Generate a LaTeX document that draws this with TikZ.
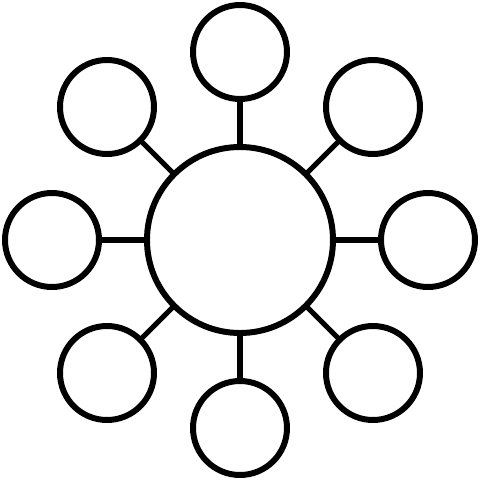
\documentclass[tikz,border=0pt]{standalone}
\usepackage{amsmath,amsthm,amssymb}
\usepackage{tikz}

\begin{document}
\begin{tikzpicture}[
  hub/.style={shape=circle,draw=black,line width=3.4pt,minimum size=3.72cm,inner sep=0pt,outer sep=0pt},
  leaf/.style={shape=circle,draw=black,line width=3.4pt,minimum size=1.88cm,inner sep=0pt,outer sep=0pt},
  spoke/.style={draw=black,line width=3pt}]

\useasboundingbox (-4.8,-4.8) rectangle (4.8,4.8);

\node[hub] (C) at (0,0) {};

\node[leaf] (T) at (0,3.76) {};
\node[leaf] (TR) at (2.66,2.66) {};
\node[leaf] (R) at (3.76,0) {};
\node[leaf] (BR) at (2.66,-2.66) {};
\node[leaf] (B) at (0,-3.76) {};
\node[leaf] (BL) at (-2.66,-2.66) {};
\node[leaf] (L) at (-3.76,0) {};
\node[leaf] (TL) at (-2.66,2.66) {};

\path [spoke] (C) edge (T);
\path [spoke] (C) edge (TR);
\path [spoke] (C) edge (R);
\path [spoke] (C) edge (BR);
\path [spoke] (C) edge (B);
\path [spoke] (C) edge (BL);
\path [spoke] (C) edge (L);
\path [spoke] (C) edge (TL);

\end{tikzpicture}
\end{document}
